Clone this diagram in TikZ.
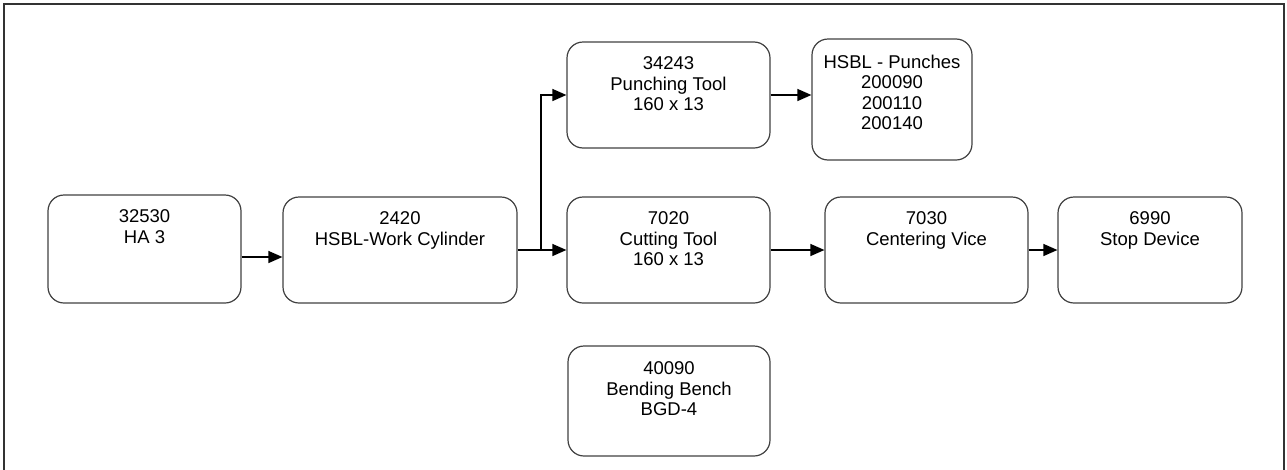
\documentclass[tikz,border=0pt]{standalone}
\usepackage{fontspec}
\setmainfont{Liberation Sans}
\usetikzlibrary{arrows.meta,calc}
\begin{document}
\begin{tikzpicture}[x=1pt,y=-1pt,
  box/.style={draw=black!75,line width=1.2pt,rounded corners=16pt,inner sep=0pt},
  lbl/.style={anchor=north,inner sep=0pt,align=center,font=\fontsize{18.5}{20.5}\selectfont},
  arr/.style={draw=black,line width=1.3pt,-{Triangle[length=14pt,width=12pt]}},
  ln/.style={draw=black,line width=1.3pt}]
\useasboundingbox (0,0) rectangle (1287,469);
\draw[black!80,line width=2pt] (4,470) -- (4,4) -- (1284,4) -- (1284,470);
% boxes
\node[box,minimum width=193pt,minimum height=108pt] (ha) at (144.5,249) {};
\node[box,minimum width=234pt,minimum height=106pt] (cyl) at (400,250) {};
\node[box,minimum width=203pt,minimum height=106pt] (punch) at (668.5,95) {};
\node[box,minimum width=160pt,minimum height=121pt] (hsbl) at (892,99.5) {};
\node[box,minimum width=203pt,minimum height=106pt] (cut) at (668.5,250) {};
\node[box,minimum width=203pt,minimum height=106pt] (vice) at (926.5,250) {};
\node[box,minimum width=184pt,minimum height=106pt] (stop) at (1150,250) {};
\node[box,minimum width=202pt,minimum height=110pt] (bend) at (669,401) {};
% labels
\node[lbl] (tha) at ($(ha.north)+(0,15)$) {32530\\HA 3};
\node[lbl] (tcyl) at ($(cyl.north)+(0,15)$) {2420\\HSBL-Work Cylinder};
\node[lbl] (tpunch) at ($(punch.north)+(0,15)$) {34243\\Punching Tool\\160 x 13};
\node[lbl] (thsbl) at ($(hsbl.north)+(0,16)$) {HSBL - Punches\\200090\\200110\\200140};
\node[lbl] (tcut) at ($(cut.north)+(0,15)$) {7020\\Cutting Tool\\160 x 13};
\node[lbl] (tvice) at ($(vice.north)+(0,15)$) {7030\\Centering Vice};
\node[lbl] (tstop) at ($(stop.north)+(0,15)$) {6990\\Stop Device};
\node[lbl] (tbend) at ($(bend.north)+(0,16)$) {40090\\Bending Bench\\BGD-4};
% connectors
\coordinate (y257) at (0,257);
\coordinate (j) at (541,250);
\draw[arr] (ha.east |- y257) -- (cyl.west |- y257);
\draw[ln] (cyl.east) -- (j);
\draw[arr] (j) -- (cut.west);
\draw[arr] (j) |- (punch.west);
\draw[arr] (punch.east) -- (punch.east -| hsbl.west);
\draw[arr] (cut.east) -- (vice.west);
\draw[arr] (vice.east) -- (stop.west);
\end{tikzpicture}
\end{document}
